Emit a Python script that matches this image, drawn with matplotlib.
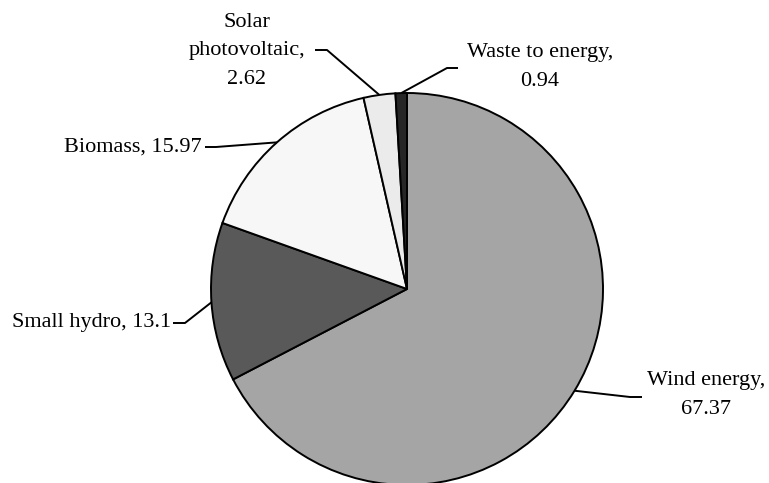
import matplotlib.pyplot as plt
import numpy as np

plt.rcParams['font.family'] = ['Liberation Serif', 'DejaVu Serif']

# share of installed renewable capacity (%)
sources = ['Wind energy', 'Small hydro', 'Biomass', 'Solar\nphotovoltaic', 'Waste to energy']
shares = [67.37, 13.1, 15.97, 2.62, 0.94]
colors = ['#a5a5a5', '#595959', '#f7f7f7', '#ebebeb', '#262626']

W, H = 769, 483
fig = plt.figure(figsize=(W / 100, H / 100), dpi=100)
ax = fig.add_axes([0, 0, 1, 1])

# work in pixel units (y measured from the bottom)
cx, cy, r = 407, H - 289, 196
wedges, _ = ax.pie(shares, colors=colors, startangle=90, counterclock=False,
                   center=(cx, cy), radius=r,
                   wedgeprops=dict(edgecolor='black', linewidth=1.4))
ax.set_xlim(0, W)
ax.set_ylim(0, H)
ax.set_aspect('equal')
ax.axis('off')

# label placement, in pixels from the top-left: text pos, alignment, separator, stub start, elbow
layout = [
    ((706, 395), 'center', '\n', (642, 397), (630, 397)),
    ((171, 323), 'right', ' ', (173, 323), (185, 323)),
    ((202, 147), 'right', ' ', (205, 147), (216, 147)),
    ((247, 51), 'center', '\n', (315, 50), (327, 50)),
    ((540, 67), 'center', '\n', (458, 68), (447, 68)),
]

for w, name, val, (tpos, ha, sep, s0, s1) in zip(wedges, sources, shares, layout):
    mid = np.deg2rad((w.theta1 + w.theta2) / 2)
    px, py = cx + r * np.cos(mid), cy + r * np.sin(mid)
    ax.plot([s0[0], s1[0], px], [H - s0[1], H - s1[1], py], color='black', lw=1.4,
            solid_capstyle='butt')
    ax.text(tpos[0], H - tpos[1], f'{name},{sep}{val}', ha=ha, va='center',
            multialignment='center', fontsize=16, linespacing=1.7)

fig.savefig('out.png', dpi=100)
